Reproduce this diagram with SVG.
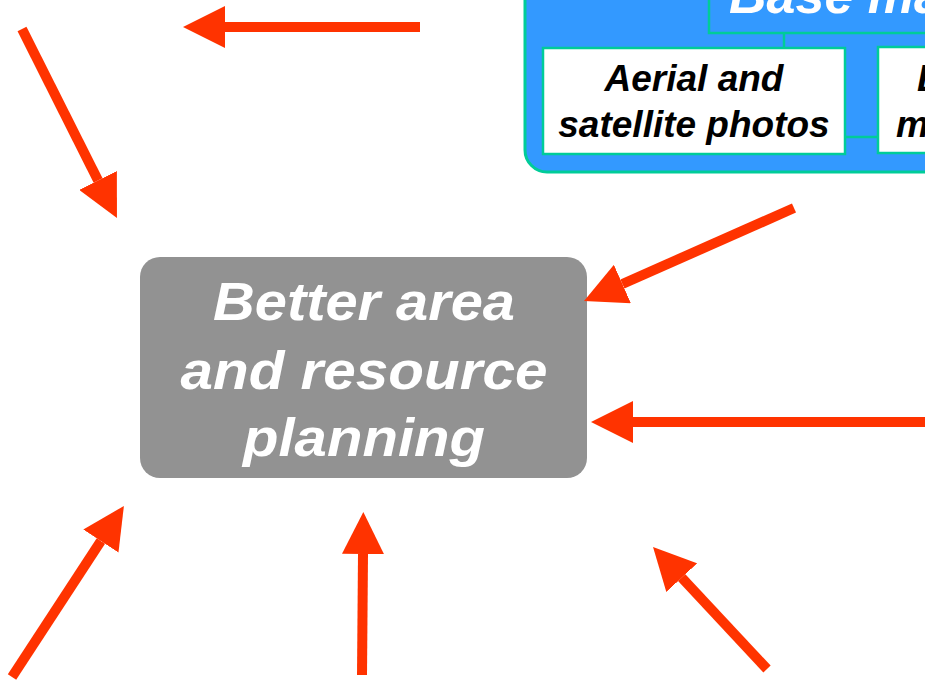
<svg xmlns="http://www.w3.org/2000/svg" width="925" height="681" viewBox="0 0 925 681">
<style>
.arrow{stroke:#FF3300;stroke-width:10;fill:none;marker-end:url(#head)}
.sub{fill:#FFFFFF;stroke:#00CC99;stroke-width:2.5}
.subt{font-family:"Liberation Sans",Arial,sans-serif;font-weight:bold;font-style:italic;font-size:37px;fill:#000000}
.main{font-family:"Liberation Sans",Arial,sans-serif;font-weight:bold;font-style:italic;font-size:53px;fill:#FFFFFF;text-anchor:middle}
.link{stroke:#00CC99;stroke-width:2.5;fill:none}
</style>
<defs>
<marker id="head" viewBox="0 0 42 42" markerWidth="42" markerHeight="42" markerUnits="userSpaceOnUse" refX="0" refY="21" orient="auto">
<path d="M0,0 L42,21 L0,42 Z" fill="#FF3300"/>
</marker>
</defs>
<rect width="925" height="681" fill="#FFFFFF"/>
<g id="base-maps">
<rect x="525" y="-40" width="440" height="212" rx="22" ry="22" fill="#3399FF" stroke="#00CC99" stroke-width="3"/>
<rect x="709" y="-40" width="260" height="73" fill="#3399FF" stroke="#00CC99" stroke-width="2.5"/>
<text x="729" y="13" font-family="Liberation Sans, Arial, sans-serif" font-weight="bold" font-style="italic" font-size="52" fill="#FFFFFF">Base map</text>
</g>
<g id="aerial">
<rect class="sub" x="543" y="48" width="302" height="106"/>
<text class="subt" x="694" y="91" text-anchor="middle">Aerial and</text>
<text class="subt" x="694" y="137" text-anchor="middle">satellite photos</text>
</g>
<g id="maps">
<rect class="sub" x="878" y="47" width="302" height="106"/>
<text class="subt" x="917" y="91">Existing</text>
<text class="subt" x="896" y="137">maps</text>
</g>
<g id="planning">
<rect x="140" y="257" width="447" height="221" rx="20" ry="20" fill="#929292"/>
<text class="main" x="364" y="320" textLength="302" lengthAdjust="spacingAndGlyphs">Better area</text>
<text class="main" x="364" y="389" textLength="367" lengthAdjust="spacingAndGlyphs">and resource</text>
<text class="main" x="364" y="456" textLength="242" lengthAdjust="spacingAndGlyphs">planning</text>
</g>
<g id="connectors">
<line class="link" x1="784" y1="33" x2="784" y2="48"/>
<line class="link" x1="845" y1="137" x2="878" y2="137"/>
<line class="arrow" x1="22" y1="29" x2="98.1" y2="180.5"/>
<line class="arrow" x1="420" y1="27" x2="225" y2="27"/>
<line class="arrow" x1="794" y1="208" x2="622.4" y2="284"/>
<line class="arrow" x1="925" y1="422" x2="633" y2="422"/>
<line class="arrow" x1="12" y1="677" x2="100.9" y2="541.1"/>
<line class="arrow" x1="362" y1="675" x2="363" y2="554"/>
<line class="arrow" x1="767" y1="669" x2="681.7" y2="577.7"/>
</g>
</svg>
